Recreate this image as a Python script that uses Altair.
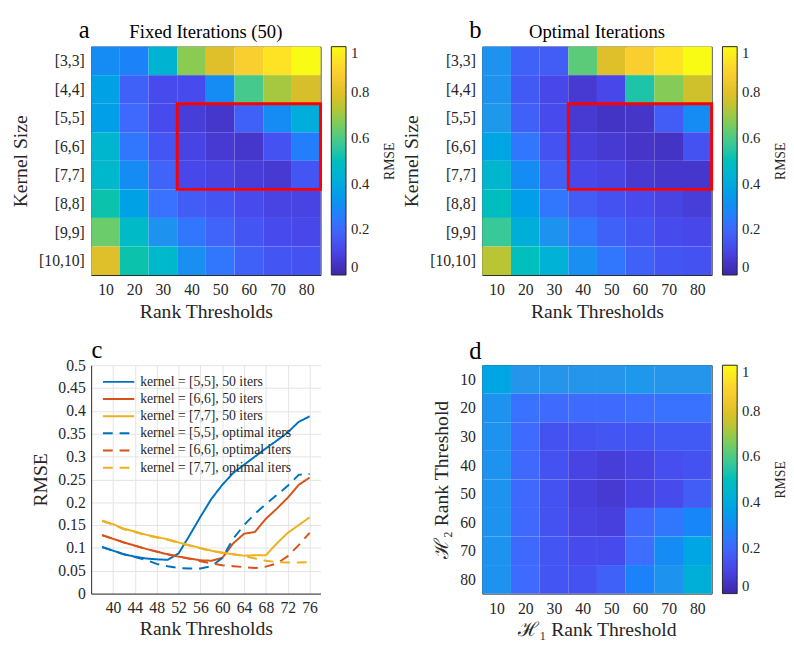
import altair as alt
import pandas as pd

# ---------------- data ----------------
RANKS = [10, 20, 30, 40, 50, 60, 70, 80]
KERNELS = [3, 4, 5, 6, 7, 8, 9, 10]

FIXED = [
    [0.30, 0.27, 0.44, 0.68, 0.79, 0.88, 0.94, 1.00],
    [0.37, 0.18, 0.12, 0.12, 0.30, 0.59, 0.71, 0.77],
    [0.36, 0.20, 0.12, 0.08, 0.06, 0.18, 0.30, 0.41],
    [0.45, 0.24, 0.15, 0.10, 0.07, 0.06, 0.14, 0.26],
    [0.46, 0.30, 0.19, 0.11, 0.10, 0.08, 0.07, 0.15],
    [0.53, 0.37, 0.23, 0.17, 0.15, 0.12, 0.10, 0.10],
    [0.64, 0.47, 0.32, 0.24, 0.19, 0.15, 0.12, 0.11],
    [0.79, 0.53, 0.46, 0.31, 0.24, 0.18, 0.15, 0.14],
]
OPTIMAL = [
    [0.32, 0.18, 0.17, 0.62, 0.79, 0.88, 0.94, 1.00],
    [0.32, 0.16, 0.11, 0.07, 0.11, 0.54, 0.67, 0.76],
    [0.34, 0.18, 0.12, 0.07, 0.05, 0.055, 0.17, 0.30],
    [0.38, 0.24, 0.14, 0.09, 0.07, 0.055, 0.05, 0.14],
    [0.45, 0.30, 0.18, 0.11, 0.10, 0.07, 0.06, 0.06],
    [0.49, 0.36, 0.24, 0.17, 0.14, 0.12, 0.10, 0.08],
    [0.57, 0.42, 0.32, 0.24, 0.18, 0.15, 0.12, 0.11],
    [0.735, 0.50, 0.43, 0.31, 0.24, 0.18, 0.15, 0.14],
]
HIGHLIGHT_RANKS = [40, 80]
HIGHLIGHT_KERNELS = [5, 7]

H1_RANKS = [10, 20, 30, 40, 50, 60, 70, 80]
H2_RANKS = [10, 20, 30, 40, 50, 60, 70, 80]
DUAL = [
    [0.38, 0.33, 0.33, 0.33, 0.33, 0.34, 0.33, 0.33],
    [0.32, 0.23, 0.21, 0.21, 0.21, 0.22, 0.23, 0.23],
    [0.32, 0.21, 0.14, 0.14, 0.15, 0.15, 0.16, 0.16],
    [0.32, 0.20, 0.14, 0.10, 0.08, 0.10, 0.13, 0.14],
    [0.32, 0.20, 0.14, 0.09, 0.07, 0.10, 0.12, 0.17],
    [0.32, 0.20, 0.14, 0.10, 0.09, 0.20, 0.24, 0.28],
    [0.32, 0.20, 0.15, 0.12, 0.12, 0.22, 0.30, 0.38],
    [0.32, 0.21, 0.15, 0.14, 0.18, 0.27, 0.32, 0.42],
]

LINE_X = [38, 40, 42, 44, 46, 48, 50, 52, 54, 56, 58, 60, 62, 64, 66, 68, 70, 72, 74, 76]
K5_FIXED = [0.102, 0.094, 0.086, 0.081, 0.077, 0.075, 0.074, 0.088, 0.127, 0.168,
            0.207, 0.238, 0.264, 0.282, 0.300, 0.318, 0.335, 0.353, 0.376, 0.388]
K6_FIXED = [0.128, 0.120, 0.112, 0.105, 0.098, 0.092, 0.086, 0.081, 0.077, 0.073,
            0.072, 0.078, 0.110, 0.131, 0.135, 0.164, 0.186, 0.210, 0.238, 0.254]
K7_FIXED = [0.160, 0.152, 0.142, 0.136, 0.129, 0.124, 0.119, 0.112, 0.106, 0.100,
            0.094, 0.090, 0.086, 0.083, 0.084, 0.084, 0.110, 0.133, 0.150, 0.167]
K5_OPT = [0.102, 0.094, 0.086, 0.080, 0.074, 0.065, 0.060, 0.056, 0.055, 0.055,
          0.060, 0.078, 0.120, 0.150, 0.175, 0.196, 0.216, 0.236, 0.260, 0.262]
K6_OPT = [0.128, 0.120, 0.112, 0.105, 0.098, 0.092, 0.086, 0.081, 0.076, 0.071,
          0.066, 0.062, 0.060, 0.058, 0.056, 0.059, 0.066, 0.082, 0.106, 0.133]
K7_OPT = [0.159, 0.151, 0.141, 0.135, 0.128, 0.123, 0.118, 0.111, 0.105, 0.099,
          0.093, 0.089, 0.086, 0.082, 0.077, 0.072, 0.069, 0.068, 0.068, 0.069]
SERIES = [
    "kernel = [5,5], 50 iters",
    "kernel = [6,6], 50 iters",
    "kernel = [7,7], 50 iters",
    "kernel = [5,5], optimal iters",
    "kernel = [6,6], optimal iters",
    "kernel = [7,7], optimal iters",
]
SERIES_VALUES = [K5_FIXED, K6_FIXED, K7_FIXED, K5_OPT, K6_OPT, K7_OPT]

# ---------------- style ----------------
FONT = "Liberation Serif"
INK = "#262626"
PARULA = ["#3E26A8", "#4847EB", "#3E6FFF", "#2796EB", "#08B5D0",
          "#31C69F", "#81CC59", "#DCBD29", "#FCCF30", "#F9FB14"]
LINE_COLORS = ["#0072BD", "#D95319", "#EDB120", "#0072BD", "#D95319", "#EDB120"]
LINE_DASH = [[1, 0], [1, 0], [1, 0], [10, 7], [10, 7], [10, 7]]
W, H = 234, 233


def grid_frame(xs, ys, values, xname, yname):
    rows = []
    for i, yv in enumerate(ys):
        for j, xv in enumerate(xs):
            rows.append({xname: xv, yname: yv, "rmse": values[i][j]})
    return pd.DataFrame(rows)


def colorbar():
    return alt.Legend(
        title=None, orient="right", offset=11, direction="vertical",
        gradientLength=H, gradientThickness=15,
        gradientStrokeColor=INK, gradientStrokeWidth=1,
        values=[0, 0.2, 0.4, 0.6, 0.8, 1], format="~g",
        labelFont=FONT, labelFontSize=15, labelColor=INK, labelOffset=5,
    )


def label_text(txt, dx, dy, size, angle=0):
    return alt.Chart(pd.DataFrame({"t": [txt]})).mark_text(
        font=FONT, fontSize=size, align="center",
        baseline="alphabetic" if angle == 0 else "middle",
        angle=angle, color="black" if angle == 0 else INK,
    ).encode(x=alt.value(dx), y=alt.value(dy), text="t:N")


X_AXIS_K = alt.Axis(values=RANKS, title="Rank Thresholds", ticks=False, domain=False,
                    grid=False, labelPadding=7, titlePadding=4, labelOverlap=False)
Y_AXIS_K = alt.Axis(values=KERNELS, title="Kernel Size", ticks=False, domain=False,
                    grid=False, labelPadding=7, titlePadding=8, labelOverlap=False,
                    labelExpr="'[' + datum.value + ',' + datum.value + ']'")
X_SCALE_K = alt.Scale(domain=[5, 85], nice=False, zero=False)
Y_SCALE_K = alt.Scale(domain=[2.5, 10.5], nice=False, zero=False, reverse=True)


def heat_kernel(values, title, ch):
    df = grid_frame(RANKS, KERNELS, values, "rank", "kernel")
    base = alt.Chart(df).transform_calculate(
        x0="datum.rank - 5", x1="datum.rank + 5",
        y0="datum.kernel - 0.5", y1="datum.kernel + 0.5",
    )
    cells = base.mark_rect().encode(
        x=alt.X("x0:Q", scale=X_SCALE_K, axis=X_AXIS_K),
        x2="x1:Q",
        y=alt.Y("y0:Q", scale=Y_SCALE_K, axis=Y_AXIS_K),
        y2="y1:Q",
        color=alt.Color("rmse:Q", scale=alt.Scale(domain=[0, 1], range=PARULA),
                        legend=colorbar()),
    )
    box_df = pd.DataFrame({"r0": [HIGHLIGHT_RANKS[0]], "r1": [HIGHLIGHT_RANKS[1]],
                           "k0": [HIGHLIGHT_KERNELS[0]], "k1": [HIGHLIGHT_KERNELS[1]]})
    box = alt.Chart(box_df).transform_calculate(
        x0="datum.r0 - 5", x1="datum.r1 + 5", y0="datum.k0 - 0.5", y1="datum.k1 + 0.5"
    ).mark_rect(filled=False, stroke="#FF0000", strokeWidth=3).encode(
        x=alt.X("x0:Q", scale=X_SCALE_K, axis=X_AXIS_K), x2="x1:Q",
        y=alt.Y("y0:Q", scale=Y_SCALE_K, axis=Y_AXIS_K), y2="y1:Q",
    )
    return alt.layer(
        cells, box,
        label_text(ch, -7, -9, 25),
        label_text(title, W / 2, -9, 19),
        label_text("RMSE", 305, 117, 14, 270),
    ).properties(width=W, height=H)


panel_a = heat_kernel(FIXED, "Fixed Iterations (50)", "a")
panel_b = heat_kernel(OPTIMAL, "Optimal Iterations", "b")

# panel c
rows = []
for name, vals in zip(SERIES, SERIES_VALUES):
    for xv, yv in zip(LINE_X, vals):
        rows.append({"rank": xv, "rmse": yv, "series": name})
df_lines = pd.DataFrame(rows)

line_legend = alt.Legend(
    title=None, orient="none", legendX=21, legendY=10,
    symbolType="M-4,0L4,0", symbolSize=64, symbolStrokeWidth=2,
    labelFont=FONT, labelFontSize=14, labelColor=INK, labelOffset=15,
    rowPadding=3.5, labelLimit=300,
)
lines = alt.Chart(df_lines).mark_line(strokeWidth=2).encode(
    x=alt.X("rank:Q", scale=alt.Scale(domain=[36, 78], nice=False, zero=False),
            axis=alt.Axis(values=list(range(40, 77, 4)), title="Rank Thresholds", ticks=False,
                          grid=True, labelPadding=6, titlePadding=4, labelOverlap=False)),
    y=alt.Y("rmse:Q", scale=alt.Scale(domain=[0, 0.5], nice=False),
            axis=alt.Axis(values=[0, 0.05, 0.1, 0.15, 0.2, 0.25, 0.3, 0.35, 0.4, 0.45, 0.5],
                          format="~g", title="RMSE", ticks=False, grid=True,
                          labelPadding=6, titlePadding=8, labelOverlap=False)),
    color=alt.Color("series:N", scale=alt.Scale(domain=SERIES, range=LINE_COLORS),
                    legend=line_legend),
    strokeDash=alt.StrokeDash("series:N", scale=alt.Scale(domain=SERIES, range=LINE_DASH),
                              legend=line_legend),
)
panel_c = alt.layer(lines, label_text("c", 6, -7, 25)).properties(
    width=W, height=H, view=alt.ViewConfig(stroke=None)
)

# panel d
df_d = grid_frame(H1_RANKS, H2_RANKS, DUAL, "h1", "h2")
cells_d = alt.Chart(df_d).transform_calculate(
    x0="datum.h1 - 5", x1="datum.h1 + 5", y0="datum.h2 - 5", y1="datum.h2 + 5"
).mark_rect().encode(
    x=alt.X("x0:Q", scale=alt.Scale(domain=[5, 85], nice=False, zero=False),
            axis=alt.Axis(values=H1_RANKS, title="ℋ₁ Rank Threshold", ticks=False,
                          domain=False, grid=False, labelPadding=7, titlePadding=4,
                          labelOverlap=False)),
    x2="x1:Q",
    y=alt.Y("y0:Q", scale=alt.Scale(domain=[5, 85], nice=False, zero=False, reverse=True),
            axis=alt.Axis(values=H2_RANKS, title="ℋ₂ Rank Threshold", ticks=False,
                          domain=False, grid=False, labelPadding=7, titlePadding=8,
                          labelOverlap=False)),
    y2="y1:Q",
    color=alt.Color("rmse:Q", scale=alt.Scale(domain=[0, 1], range=PARULA), legend=colorbar()),
)
panel_d = alt.layer(
    cells_d, label_text("d", -7, -6, 25), label_text("RMSE", 305, 117, 14, 270)
).properties(width=W, height=H)

chart = alt.concat(
    panel_a, panel_b, panel_c, panel_d, columns=2,
    spacing={"row": 92, "column": 165}, bounds="flush",
).resolve_scale(
    color="independent", strokeDash="independent", x="independent", y="independent"
).resolve_legend(
    color="independent", strokeDash="independent"
).properties(
    padding={"left": 10, "top": 11, "right": 5, "bottom": 5}, background="white"
).configure_view(
    stroke=INK, strokeWidth=1
).configure_axis(
    labelFont=FONT, labelFontSize=16, labelColor=INK,
    titleFont=FONT, titleFontSize=20, titleFontWeight="normal", titleColor=INK,
    gridColor="#E3E3E3", domainColor=INK,
)

chart.save("out.html", embed_options={"renderer": "svg", "actions": False})
